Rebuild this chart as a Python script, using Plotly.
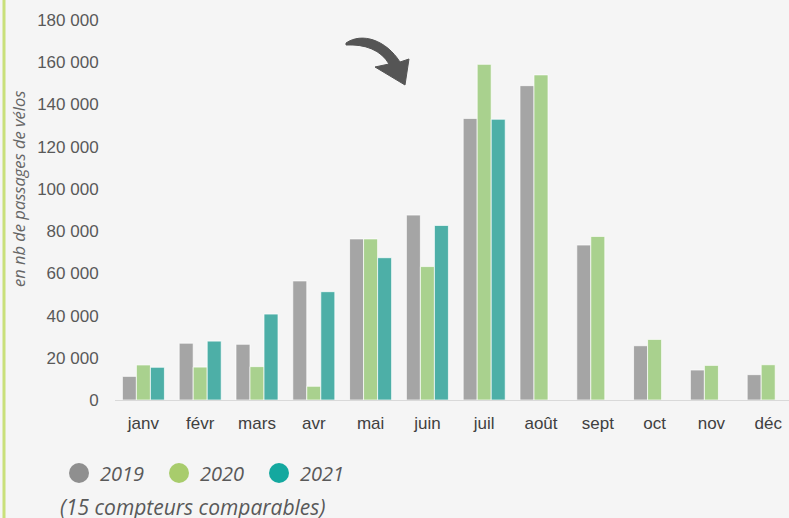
import plotly.graph_objects as go

months = ["janv", "févr", "mars", "avr", "mai", "juin", "juil", "août", "sept", "oct", "nov", "déc"]
v2019 = [11200, 26900, 26400, 56400, 76300, 87600, 133400, 148900, 73400, 25700, 14200, 12000]
v2020 = [16600, 15600, 15800, 6500, 76300, 63200, 159000, 154000, 77500, 28700, 16400, 16700]
v2021 = [15500, 27900, 40700, 51300, 67400, 82700, 133000, None, None, None, None, None]
series_names = ["2019", "2020", "2021"]
y_ticks = [0, 20000, 40000, 60000, 80000, 100000, 120000, 140000, 160000, 180000]
y_ticklabels = ["0", "20 000", "40 000", "60 000", "80 000", "100 000", "120 000", "140 000", "160 000", "180 000"]

bar_colors = {"2019": "#a5a5a5", "2020": "#a9d18e", "2021": "#4dafa7"}
legend_colors = {"2019": "#8f8f8f", "2020": "#a8cc6c", "2021": "#14a89f"}

W, H = 789, 518
L, R, T, B = 115, 0, 20, 118
PW, PH = W - L - R, H - T - B
cat_w = 56.8

def px(x):
    return (x - L) / PW

def py(y):
    return (H - B - y) / PH

fig = go.Figure()
for name, vals in zip(series_names, [v2019, v2020, v2021]):
    fig.add_trace(go.Bar(
        x=months, y=vals, name=name, showlegend=False,
        marker=dict(color=bar_colors[name], line=dict(color="rgba(255,255,255,0.7)", width=1)),
        hoverinfo="x+y+name",
    ))

annotations = [
    dict(text="en nb de passages de vélos", xref="paper", yref="paper",
         x=px(18), y=py(189), textangle=-90, showarrow=False,
         xanchor="center", yanchor="middle",
         font=dict(family="Open Sans", size=16.5, color="#666666", style="italic")),
    dict(text="(15 compteurs comparables)", xref="paper", yref="paper",
         x=px(58), y=py(507), showarrow=False, xanchor="left", yanchor="middle",
         font=dict(family="Open Sans", size=21, color="#595959", style="italic")),
    dict(text="(par rapport à 2019)", xref="paper", yref="paper",
         x=px(251), y=py(4), showarrow=False, xanchor="center", yanchor="bottom",
         font=dict(family="Open Sans", size=19, color="#666666")),
]
shapes = []
# manual legend (circles + labels)
for i, name in enumerate(series_names):
    cx, cy, r = 79 + 100 * i, 473, 10
    shapes.append(dict(type="circle", xref="paper", yref="paper",
                       x0=px(cx - r), x1=px(cx + r), y0=py(cy + r), y1=py(cy - r),
                       fillcolor=legend_colors[name], line=dict(width=0)))
    annotations.append(dict(text=name, xref="paper", yref="paper", x=px(cx + 19), y=py(cy),
                            showarrow=False, xanchor="left", yanchor="middle",
                            font=dict(family="Open Sans", size=20, color="#595959", style="italic")))

# left accent line
shapes.append(dict(type="line", xref="paper", yref="paper", x0=px(4), x1=px(4), y0=py(H), y1=py(0),
                   line=dict(color="#c9e07a", width=3)))

# curved arrow decoration
coords = [(346, 43), (362, 32), (386, 40), (400, 62), (409, 59), (405, 85), (375, 67), (389, 64),
          (381, 50), (365, 44), (346, 45)]
P = [f"{px(x):.5f} {py(y):.5f}" for x, y in coords]
path = (f"M {P[0]} C {P[1]} {P[2]} {P[3]} L {P[4]} L {P[5]} L {P[6]} L {P[7]} "
        f"C {P[8]} {P[9]} {P[10]} Z")
shapes.append(dict(type="path", xref="paper", yref="paper", path=path,
                   fillcolor="#555555", line=dict(color="#555555", width=1)))

fig.update_layout(
    width=W, height=H,
    margin=dict(l=L, r=R, t=T, b=B, pad=0),
    paper_bgcolor="#f5f5f5", plot_bgcolor="#f5f5f5",
    barmode="group", bargap=0.26, bargroupgap=0,
    showlegend=False,
    font=dict(family="Liberation Sans, Arial", size=17, color="#595959"),
    xaxis=dict(
        type="category", range=[-0.5, -0.5 + PW / cat_w],
        showline=True, linecolor="#d9d9d9", linewidth=1,
        showgrid=False, zeroline=False,
        ticks="outside", ticklen=8, tickcolor="rgba(0,0,0,0)",
        tickfont=dict(family="Liberation Sans, Arial", size=17, color="#404040"),
        fixedrange=True,
    ),
    yaxis=dict(
        range=[0, 180000], tickvals=y_ticks, ticktext=y_ticklabels,
        showgrid=False, zeroline=False, showline=False,
        ticks="outside", ticklen=12, tickcolor="rgba(0,0,0,0)",
        tickfont=dict(family="Liberation Sans, Arial", size=17, color="#595959"),
        fixedrange=True,
    ),
    annotations=annotations,
    shapes=shapes,
)

fig.write_html(
    "out.html",
    config={"displayModeBar": False},
    post_script="document.body.style.margin='0';document.body.style.overflow='hidden';",
)
